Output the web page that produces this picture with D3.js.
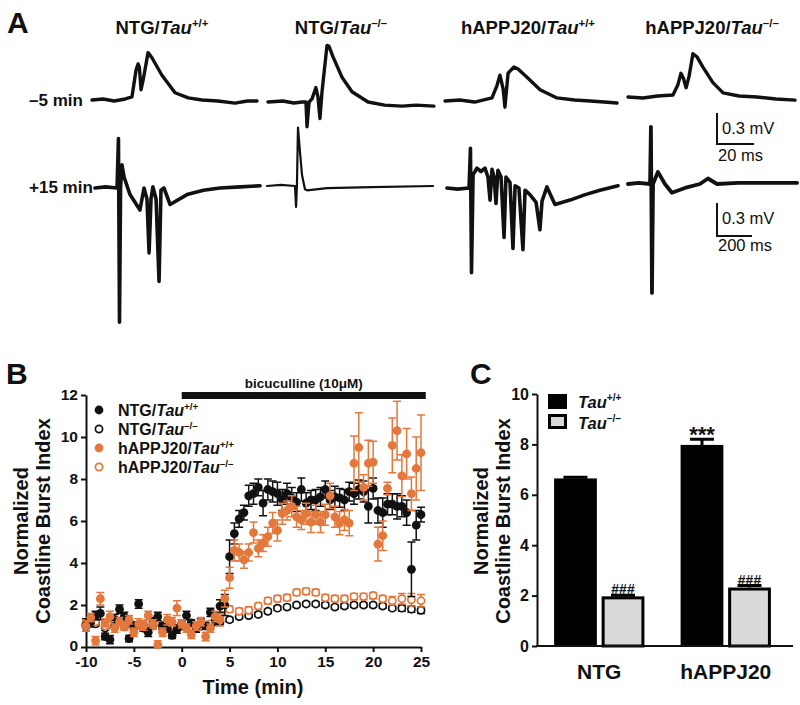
<!DOCTYPE html>
<html><head><meta charset="utf-8">
<script src="https://cdn.jsdelivr.net/npm/d3@7"></script>
<style>
body{margin:0;background:#fff}
svg{display:block}
text{font-family:"Liberation Sans",Arial,Helvetica,sans-serif;fill:#111}
</style>
</head><body>
<svg id="c" width="800" height="705" font-weight="bold"></svg>
<script>
// ================= DATA =================
// Panel A: field potential traces, [time (ms), voltage (mV)]
const traceTitles = [["NTG/", "+/+"], ["NTG/", "–/–"], ["hAPPJ20/", "+/+"], ["hAPPJ20/", "–/–"]];
const traceRowLabels = ["–5 min", "+15 min"];
const preNTGwt = [[0,0],[6,0.01],[12,-0.01],[18,0.01],[21.6,0.03],[23.8,0.29],[24.9,0.35],[25.6,0.32],[26.5,0.10],[27.6,0.19],[30.3,0.46],[32.4,0.41],[37.8,0.24],[44.9,0.07],[52,0.02],[59.5,0],[68,-0.01],[77.3,-0.03],[84,-0.01],[89.2,-0.01]];
const preNTGko = [[0,0],[8,0.01],[14,-0.01],[18.4,0],[20.5,0],[21.1,-0.24],[22.2,0],[23.8,0.03],[25.9,0.14],[27,0.05],[28.1,-0.16],[29.2,0.1],[31.9,0.55],[33,0.54],[35.1,0.44],[40,0.24],[45.4,0.10],[54.1,0],[63,-0.03],[72.4,-0.04],[80,-0.03],[89.7,-0.04]];
const preAPPwt = [[0,0],[8,0.01],[16,-0.01],[25.4,0.03],[28.1,0.15],[29.7,0.25],[31.4,0.12],[32.4,-0.06],[34.1,0.27],[37.3,0.33],[39.5,0.31],[44.3,0.23],[51.4,0.11],[60.5,0.03],[70,0.01],[78.4,0],[86,-0.01],[93,-0.02]];
const preAPPko = [[0,0],[8,-0.01],[16,0.01],[24.3,0.02],[27,0.12],[28.6,0.23],[30,0.18],[31.4,0.09],[33,0.2],[35.1,0.42],[37.3,0.39],[40.5,0.29],[45.9,0.14],[51.4,0.04],[60,0.01],[69.7,0],[80,-0.02],[90.3,-0.03]];
const postNTGwt = [[0,0],[60,0.01],[126,0],[134,0.45],[140,-1.22],[146,0],[154,0.21],[166,0.1],[200,-0.06],[257,-0.2],[280,0],[297,-0.1],[309,-0.59],[320,-0.1],[331,0.01],[349,-0.1],[366,-0.85],[377,-0.02],[394,0],[429,-0.15],[526,-0.06],[620,-0.02],[714,0],[830,0.01],[943,0.02]];
const postNTGko = [[0,0],[80,0.01],[160,0],[166,-0.19],[171,0],[177,0.53],[189,0.3],[200,0.1],[217,-0.03],[229,-0.04],[343,-0.02],[600,-0.01],[949,0]];
const postAPPwt = [[0,0],[60,-0.01],[126,0],[134,0.36],[140,-0.77],[149,0.12],[171,0.18],[194,0.15],[217,0.18],[234,0.1],[246,-0.11],[257,0.17],[269,0.1],[280,-0.14],[291,0.16],[309,0.1],[326,-0.45],[337,0.1],[360,0.05],[377,-0.55],[389,0.02],[411,0],[434,-0.56],[446,-0.02],[474,-0.06],[509,-0.13],[531,-0.38],[543,-0.12],[571,0.01],[617,-0.15],[703,-0.11],[790,-0.06],[874,-0.02],[977,0.02]];
const postAPPko = [[0,0],[60,0.01],[126,0],[131,0.52],[137,-0.99],[143,0],[171,0.11],[211,0],[251,-0.08],[337,-0.03],[411,0],[457,0.05],[509,0],[630,0.01],[754,0.01],[966,0.01]];
const scaleBarTop = {mV: 0.3, ms: 20};
const scaleBarBottom = {mV: 0.3, ms: 200};

// Panel B: normalized coastline burst index over time
const bicucullineSpan = [0, 25.5];
const timeFilled = [-10,-9.5,-9,-8.5,-8,-7.5,-7,-6.5,-6,-5.5,-5,-4.5,-4,-3.5,-3,-2.5,-2,-1.5,-1,-0.5,0,0.5,1,1.5,2,2.5,3,3.5,4,4.5,5,5.5,6,6.5,7,7.5,8,8.5,9,9.5,10,10.5,11,11.5,12,12.5,13,13.5,14,14.5,15,15.5,16,16.5,17,17.5,18,18.5,19,19.5,20,20.5,21,21.5,22,22.5,23,23.5,24,24.5,25];
const ntgWT = [1.05,1.2,1.5,1.6,0.5,0.35,1.3,1.8,1.45,0.4,1.0,2.05,0.9,0.7,1.2,1.45,1.0,0.9,0.55,0.85,
  1.1,1.5,1.15,0.9,1.15,1.0,1.65,1.25,1.95,2.0,
  4.3,5.4,6.1,6.4,7.2,7.3,7.6,6.85,7.5,7.4,
  7.3,7.0,7.3,7.1,6.9,7.5,6.85,7.0,7.0,7.15,
  7.5,7.0,7.15,7.1,7.0,7.4,7.3,7.5,7.4,6.7,
  7.55,6.5,6.4,6.8,6.8,6.7,6.7,6.4,3.7,5.8,
  6.3];
const ntgWTerr = [0.3,0.25,0.2,0.3,0.15,0.2,0.25,0.2,0.2,0.15,0.2,0.2,0.15,0.2,0.2,0.2,0.15,0.2,0.15,0.2,
  0.2,0.2,0.15,0.2,0.2,0.15,0.2,0.2,0.3,0.5,
  0.8,0.5,0.4,0.35,0.5,0.5,0.4,0.6,0.5,0.5,
  0.55,0.5,0.5,0.5,0.45,0.55,0.5,0.45,0.5,0.45,
  0.4,0.45,0.5,0.45,0.5,0.45,0.5,0.45,0.5,0.8,
  0.5,0.6,0.7,0.5,0.5,0.6,0.5,0.6,1.3,0.7,
  0.35];
const appWT = [1.0,1.4,0.3,2.3,1.15,1.45,0.9,1.2,1.0,1.3,0.7,1.1,1.0,1.5,1.1,0.1,0.7,1.3,1.2,1.85,
  1.1,0.9,0.6,1.0,1.2,0.5,0.9,1.45,1.3,2.3,
  3.3,4.6,4.5,4.15,4.5,5.45,4.7,4.95,5.25,5.9,
  5.55,6.35,6.5,6.7,6.2,6.05,6.35,5.95,6.3,5.95,
  6.3,7.2,6.2,5.9,6.05,5.9,8.75,9.5,7.6,8.75,
  8.8,4.9,5.3,7.55,9.6,10.3,8.15,9.2,7.3,8.5,
  9.25];
const appWTerr = [0.25,0.2,0.2,0.3,0.2,0.25,0.2,0.2,0.2,0.2,0.2,0.25,0.2,0.2,0.2,0.2,0.2,0.25,0.2,0.35,
  0.2,0.2,0.2,0.2,0.2,0.2,0.2,0.25,0.3,0.4,
  0.5,0.5,0.4,0.4,0.4,0.5,0.4,0.4,0.45,0.5,
  0.5,0.5,0.45,0.5,0.5,0.45,0.5,0.5,0.45,0.5,
  0.5,0.6,0.5,0.55,0.5,0.6,1.3,1.65,0.6,1.1,
  1.0,0.8,0.7,0.3,1.3,1.4,1.0,1.2,0.8,1.5,
  1.8];
const timeOpen = [-10,-9,-8,-7,-6,-5,-4,-3,-2,-1,0,1,2,3,4,5,6,7,8,9,10,11,12,13,14,15,16,17,18,19,20,21,22,23,24,25];
const ntgKO = [1.0,1.1,0.9,1.0,1.0,0.95,1.0,1.05,1.0,0.95,
  1.0,0.95,1.0,1.05,1.2,1.3,1.45,1.5,1.55,1.7,
  1.85,1.9,2.0,2.05,2.05,2.0,1.9,1.95,2.0,2.0,
  2.0,1.95,1.85,1.85,1.8,1.75];
const ntgKOerr = [0.1,0.1,0.1,0.1,0.1,0.1,0.1,0.1,0.1,0.1,
  0.1,0.1,0.1,0.1,0.1,0.1,0.1,0.1,0.1,0.1,
  0.1,0.1,0.1,0.1,0.1,0.1,0.1,0.1,0.1,0.1,
  0.1,0.1,0.1,0.15,0.15,0.15];
const appKO = [1.1,1.2,1.0,1.1,0.95,1.0,1.1,1.0,0.9,1.0,
  1.05,0.95,1.0,1.1,1.5,1.8,1.7,1.75,1.95,2.2,
  2.3,2.35,2.6,2.65,2.6,2.35,2.3,2.3,2.4,2.4,
  2.45,2.3,2.2,2.3,2.25,2.2];
const appKOerr = [0.15,0.15,0.15,0.15,0.15,0.15,0.15,0.15,0.15,0.15,
  0.15,0.15,0.15,0.15,0.15,0.15,0.15,0.15,0.15,0.15,
  0.15,0.15,0.15,0.15,0.15,0.15,0.15,0.15,0.15,0.15,
  0.15,0.15,0.2,0.25,0.3,0.3];
const legendB = [["NTG/", "+/+"], ["NTG/", "–/–"], ["hAPPJ20/", "+/+"], ["hAPPJ20/", "–/–"]];
const xTicksB = [-10,-5,0,5,10,15,20,25];
const yTicksB = [0,2,4,6,8,10,12];

// Panel C: mean burst index
const barGroups = ["NTG", "hAPPJ20"];
const barGenotypes = ["+/+", "–/–"];
const barWT = [6.65, 7.98];
const barWTerr = [0.05, 0.22];
const barKO = [1.97, 2.32];
const barKOerr = [0.04, 0.08];
const sigWT = ["", "***"];
const sigKO = ["###", "###"];
const yTicksC = [0,2,4,6,8,10];

// ================= DRAW =================
const svg = d3.select("#c");
const INK = "#111";
const ORANGE = "#e4773c";
const GRAY = "#d9d9d9";

function genoLabel(sel, prefix, sup, size) {
  sel.attr("font-size", size);
  sel.append("tspan").text(prefix);
  sel.append("tspan").attr("font-style", "italic").text("Tau");
  sel.append("tspan").attr("font-size", size * 0.62).attr("dy", -size * 0.4).text(sup);
}

// panel letters
[["A", 7, 33], ["B", 6, 384], ["C", 470, 384]].forEach(([t, x, y]) =>
  svg.append("text").attr("x", x).attr("y", y).attr("font-size", 30).text(t));

// ---------- Panel A ----------
const gA = svg.append("g");
const titleCx = [162, 341, 528, 712];
traceTitles.forEach((t, i) => {
  genoLabel(gA.append("text").attr("x", titleCx[i]).attr("y", 34).attr("text-anchor", "middle"), t[0], t[1], 18.5);
});
gA.append("text").attr("x", 29).attr("y", 106).attr("font-size", 17).text(traceRowLabels[0]);
gA.append("text").attr("x", 29).attr("y", 193).attr("font-size", 17).text(traceRowLabels[1]);

const preTraces = [preNTGwt, preNTGko, preAPPwt, preAPPko];
const postTraces = [postNTGwt, postNTGko, postAPPwt, postAPPko];
const preX0 = [92, 268, 445, 628], preBase = [100, 102, 101, 97];
const postX0 = [95, 267, 447, 628], postBase = [188, 186, 188, 184];
const prePxPerMs = 1.85, prePxPerMv = 103;
const postPxPerMs = 0.175, postPxPerMv = 110;
const postWidths = [3.6, 2.2, 3.6, 3.8];

function drawTrace(data, x0, base, pxMs, pxMv, sw) {
  const xs = d3.scaleLinear().domain([0, 100]).range([x0, x0 + 100 * pxMs]);
  const ys = d3.scaleLinear().domain([0, 1]).range([base, base - pxMv]);
  gA.append("path").datum(data)
    .attr("d", d3.line().x(d => xs(d[0])).y(d => ys(d[1])))
    .attr("fill", "none").attr("stroke", INK).attr("stroke-width", sw)
    .attr("stroke-linejoin", "round").attr("stroke-linecap", "round");
}
preTraces.forEach((d, i) => drawTrace(d, preX0[i], preBase[i], prePxPerMs, prePxPerMv, 3.4));
postTraces.forEach((d, i) => drawTrace(d, postX0[i], postBase[i], postPxPerMs, postPxPerMv, postWidths[i]));

function scaleBar(cx, cy, bar, pxMs, pxMv, lblV, lblT, ty1, ty2) {
  const xs = d3.scaleLinear().domain([0, 1]).range([cx, cx + pxMs]);
  const ys = d3.scaleLinear().domain([0, 1]).range([cy, cy - pxMv]);
  gA.append("path")
    .attr("d", `M${xs(0)},${ys(bar.mV)}L${xs(0)},${ys(0)}L${xs(bar.ms)},${ys(0)}`)
    .attr("fill", "none").attr("stroke", INK).attr("stroke-width", 2);
  gA.append("text").attr("x", cx + 5).attr("y", ty1).attr("font-size", 16.5).attr("font-weight", "normal").text(lblV);
  gA.append("text").attr("x", cx + 1).attr("y", ty2).attr("font-size", 16.5).attr("font-weight", "normal").text(lblT);
}
scaleBar(717, 144, scaleBarTop, prePxPerMs, prePxPerMv, "0.3 mV", "20 ms", 134, 161);
scaleBar(717, 236, scaleBarBottom, postPxPerMs, postPxPerMv, "0.3 mV", "200 ms", 224, 251);

// ---------- Panel B ----------
const gB = svg.append("g");
const xB = d3.scaleLinear().domain([-10, 25]).range([86, 421]);
const yB = d3.scaleLinear().domain([0, 12]).range([647, 395]);

const axB = gB.append("g").attr("transform", "translate(0,647)")
  .call(d3.axisBottom(xB).tickValues(xTicksB).tickFormat(d => String(d)).tickSize(5).tickSizeOuter(0).tickPadding(4));
const ayB = gB.append("g").attr("transform", "translate(86,0)")
  .call(d3.axisLeft(yB).tickValues(yTicksB).tickSize(5).tickSizeOuter(0).tickPadding(3));
[axB, ayB].forEach(a => {
  a.selectAll("path,line").attr("stroke", INK).attr("stroke-width", 2);
  a.selectAll("text").attr("font-size", 15.5).attr("font-family", '"Liberation Sans",Arial,sans-serif').attr("font-weight", "bold").attr("fill", INK);
});
ayB.selectAll(".tick").filter(d => d === 0).select("text").attr("dy", "0.2em");
gB.append("text").attr("x", 253).attr("y", 694).attr("text-anchor", "middle").attr("font-size", 20).text("Time (min)");
gB.append("text").attr("transform", "translate(28,521) rotate(-90)").attr("text-anchor", "middle").attr("font-size", 20).text("Normalized");
gB.append("text").attr("transform", "translate(50,521) rotate(-90)").attr("text-anchor", "middle").attr("font-size", 20).text("Coastline Burst Index");

// bicuculline bar
gB.append("rect").attr("x", xB(bicucullineSpan[0])).attr("y", 392)
  .attr("width", xB(bicucullineSpan[1]) - xB(bicucullineSpan[0])).attr("height", 7).attr("fill", INK);
gB.append("text").attr("x", (xB(bicucullineSpan[0]) + xB(bicucullineSpan[1])) / 2).attr("y", 388)
  .attr("text-anchor", "middle").attr("font-size", 13.5).text("bicuculline (10μM)");

function series(times, vals, errs, color, filled, r) {
  const g = gB.append("g");
  const pts = times.map((t, i) => ({t, v: vals[i], e: errs[i]}));
  const cap = 4;
  g.selectAll("path.err").data(pts).join("path").attr("class", "err")
    .attr("d", d => {
      const x = xB(d.t), y1 = yB(d.v + d.e), y0 = yB(Math.max(0, d.v - d.e));
      return `M${x},${y0}L${x},${y1}M${x - cap},${y1}L${x + cap},${y1}M${x - cap},${y0}L${x + cap},${y0}`;
    })
    .attr("stroke", color).attr("stroke-width", 1.5).attr("fill", "none");
  g.selectAll("circle").data(pts).join("circle")
    .attr("cx", d => xB(d.t)).attr("cy", d => yB(d.v)).attr("r", r)
    .attr("fill", filled ? color : "#fff").attr("stroke", color).attr("stroke-width", filled ? 0 : 1.7);
}
series(timeOpen, ntgKO, ntgKOerr, INK, false, 3.6);
series(timeOpen, appKO, appKOerr, ORANGE, false, 3.6);
series(timeFilled, ntgWT, ntgWTerr, INK, true, 4.4);
series(timeFilled, appWT, appWTerr, ORANGE, true, 4.4);

// legend B
const legY = [416, 435, 454, 473];
legendB.forEach((l, i) => {
  const color = i < 2 ? INK : ORANGE;
  const filled = i % 2 === 0;
  gB.append("circle").attr("cx", 99).attr("cy", legY[i] - 6).attr("r", filled ? 4.4 : 3.6)
    .attr("fill", filled ? color : "#fff").attr("stroke", color).attr("stroke-width", filled ? 0 : 1.7);
  genoLabel(gB.append("text").attr("x", 118).attr("y", legY[i]), l[0], l[1], 16);
});

// ---------- Panel C ----------
const gC = svg.append("g");
const yC = d3.scaleLinear().domain([0, 10]).range([646, 394]);
const x0C = d3.scaleBand().domain(barGroups).range([536, 789]).paddingInner(0.286).paddingOuter(0.143);
const x1C = d3.scaleBand().domain(barGenotypes).range([0, x0C.bandwidth()]).paddingInner(0.1);

barGroups.forEach((g, i) => {
  const gx = x0C(g);
  const bw = x1C.bandwidth();
  const xw = gx + x1C(barGenotypes[0]);
  gC.append("rect").attr("x", xw).attr("y", yC(barWT[i])).attr("width", bw).attr("height", yC(0) - yC(barWT[i])).attr("fill", "#000");
  const xk = gx + x1C(barGenotypes[1]);
  gC.append("rect").attr("x", xk + 1.5).attr("y", yC(barKO[i]) + 1.5).attr("width", bw - 3).attr("height", yC(0) - yC(barKO[i]) - 1.5)
    .attr("fill", GRAY).attr("stroke", "#000").attr("stroke-width", 3);
  [[xw, barWT[i], barWTerr[i]], [xk, barKO[i], barKOerr[i]]].forEach(([bx, m, e]) => {
    const cx = bx + bw / 2, yt = yC(m + e);
    gC.append("path").attr("d", `M${cx},${yC(m)}L${cx},${yt}M${cx - 12},${yt}L${cx + 12},${yt}`)
      .attr("stroke", "#000").attr("stroke-width", 3).attr("fill", "none");
  });
  if (sigWT[i]) gC.append("text").attr("x", xw + bw / 2).attr("y", yC(barWT[i] + barWTerr[i]) + 3).attr("text-anchor", "middle").attr("font-size", 22).text(sigWT[i]);
  if (sigKO[i]) gC.append("text").attr("x", xk + bw / 2).attr("y", yC(barKO[i] + barKOerr[i]) - 1).attr("text-anchor", "middle").attr("font-size", 14).text(sigKO[i]);
});

const axC = gC.append("g").attr("transform", "translate(0,646)")
  .call(d3.axisBottom(x0C).tickSize(0).tickPadding(18));
axC.select(".domain").attr("d", "M536,0H793");
const ayC = gC.append("g").attr("transform", "translate(537,0)")
  .call(d3.axisLeft(yC).tickValues(yTicksC).tickSize(5).tickSizeOuter(0).tickPadding(3));
[axC, ayC].forEach(a => {
  a.selectAll("path,line").attr("stroke", INK).attr("stroke-width", 2);
  a.selectAll("text").attr("font-family", '"Liberation Sans",Arial,sans-serif').attr("font-weight", "bold").attr("fill", INK);
});
ayC.selectAll("text").attr("font-size", 16);
axC.selectAll("text").attr("font-size", 21);
gC.append("text").attr("transform", "translate(488,521) rotate(-90)").attr("text-anchor", "middle").attr("font-size", 20).text("Normalized");
gC.append("text").attr("transform", "translate(510,521) rotate(-90)").attr("text-anchor", "middle").attr("font-size", 20).text("Coastline Burst Index");

// legend C
gC.append("rect").attr("x", 548).attr("y", 394).attr("width", 19).attr("height", 15).attr("fill", "#000");
gC.append("rect").attr("x", 549.5).attr("y", 415.5).attr("width", 16).attr("height", 12).attr("fill", GRAY).attr("stroke", "#000").attr("stroke-width", 3);
genoLabel(gC.append("text").attr("x", 578).attr("y", 408), "", barGenotypes[0], 16.5);
genoLabel(gC.append("text").attr("x", 578).attr("y", 429), "", barGenotypes[1], 16.5);
</script>
</body></html>
